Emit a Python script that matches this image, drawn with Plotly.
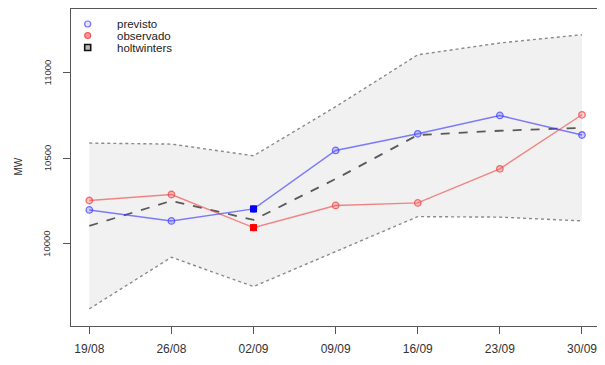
import plotly.graph_objects as go

dates = ["19/08", "26/08", "02/09", "09/09", "16/09", "23/09", "30/09"]
previsto = [10198, 10134, 10204, 10545, 10642, 10749, 10635]
observado = [10253, 10288, 10095, 10224, 10239, 10438, 10753]
holtwinters = [10105, 10251, 10140, 10379, 10635, 10660, 10677]
upper = [10588, 10582, 10514, 10800, 11103, 11172, 11220]
lower = [9621, 9922, 9751, 9953, 10159, 10156, 10134]
y_ticks = [10000, 10500, 11000]
highlight_idx = 2

xi = list(range(len(dates)))
fig = go.Figure()

# band polygon
fig.add_trace(go.Scatter(x=xi + xi[::-1], y=upper + lower[::-1], mode="lines",
                         fill="toself", fillcolor="#f1f1f1",
                         line=dict(width=0), hoverinfo="skip"))
fig.add_trace(go.Scatter(x=xi, y=upper, mode="lines",
                         line=dict(color="#8a8a8a", width=1.4, dash="dot")))
fig.add_trace(go.Scatter(x=xi, y=lower, mode="lines",
                         line=dict(color="#8a8a8a", width=1.4, dash="dot")))
fig.add_trace(go.Scatter(x=xi, y=holtwinters, mode="lines",
                         line=dict(color="#5a5a5a", width=1.8, dash="dash")))
fig.add_trace(go.Scatter(x=xi, y=observado, mode="lines+markers",
                         line=dict(color="rgba(240,60,60,0.6)", width=1.4),
                         marker=dict(symbol="circle", size=6.5, color="rgba(255,80,80,0.3)",
                                     line=dict(color="rgba(240,60,60,0.7)", width=1.3))))
fig.add_trace(go.Scatter(x=xi, y=previsto, mode="lines+markers",
                         line=dict(color="rgba(60,60,255,0.65)", width=1.5),
                         marker=dict(symbol="circle", size=6.5, color="rgba(90,90,255,0.3)",
                                     line=dict(color="rgba(60,60,255,0.7)", width=1.3))))
fig.add_trace(go.Scatter(x=[xi[highlight_idx]], y=[previsto[highlight_idx]], mode="markers",
                         marker=dict(symbol="square", size=7, color="#0000ff")))
fig.add_trace(go.Scatter(x=[xi[highlight_idx]], y=[observado[highlight_idx]], mode="markers",
                         marker=dict(symbol="square", size=7, color="#ff0000")))

axis_common = dict(showline=True, linecolor="#555", linewidth=1, mirror=True,
                   showgrid=False, zeroline=False, ticks="outside", ticklen=7,
                   tickcolor="#555", tickwidth=1)

fig.update_xaxes(range=[-0.223, 6.256], tickmode="array", tickvals=xi, ticktext=dates,
                 ticklabelstandoff=5,
                 tickfont=dict(family="Liberation Sans", size=12, color="#333"),
                 **axis_common)
fig.update_yaxes(range=[9521, 11370], tickmode="array", tickvals=y_ticks,
                 showticklabels=False, **axis_common)

PX0, PW, PY1, PH = 71, 532, 326, 317
def px(xp):
    return (xp - PX0) / PW
def py(yp):
    return (PY1 - yp) / PH

# rotated y tick labels, R style
for v in y_ticks:
    fig.add_annotation(text=str(v), xref="paper", yref="y", x=px(47), y=v,
                       xanchor="center", yanchor="middle", textangle=-90, showarrow=False,
                       font=dict(family="Liberation Sans", size=9.5, color="#333"))

# legend (drawn manually, R style)
leg_x = px(87.7)
fig.add_shape(type="circle", xref="paper", yref="paper", xsizemode="pixel", ysizemode="pixel",
              xanchor=leg_x, yanchor=py(24), x0=-3, x1=3, y0=-3, y1=3,
              line=dict(color="rgba(60,60,255,0.7)", width=1.2), fillcolor="rgba(90,90,255,0.15)")
fig.add_shape(type="circle", xref="paper", yref="paper", xsizemode="pixel", ysizemode="pixel",
              xanchor=leg_x, yanchor=py(35.5), x0=-3, x1=3, y0=-3, y1=3,
              line=dict(color="rgba(240,60,60,0.8)", width=1.2), fillcolor="rgba(255,80,80,0.6)")
fig.add_shape(type="rect", xref="paper", yref="paper", xsizemode="pixel", ysizemode="pixel",
              xanchor=leg_x, yanchor=py(47.5), x0=-3, x1=3, y0=-3, y1=3,
              line=dict(color="#111", width=1.6), fillcolor="#bbb")
for name, yy in zip(["previsto", "observado", "holtwinters"], [24, 36, 48]):
    fig.add_annotation(text=name, xref="paper", yref="paper", x=px(115),
                       y=py(yy), xanchor="left", yanchor="middle", showarrow=False,
                       font=dict(family="Liberation Sans", size=11.5, color="#222"))

fig.add_annotation(text="MW", xref="paper", yref="paper", x=px(17.5),
                   y=py(167), xanchor="center", yanchor="middle", textangle=-90,
                   showarrow=False, font=dict(family="Liberation Sans", size=10, color="#333"))

# margins compensate for the 8px default page margin
fig.update_layout(width=605, height=365, margin=dict(l=63, r=10, t=1, b=47),
                  plot_bgcolor="white", paper_bgcolor="white", showlegend=False)

fig.write_html("out.html")
